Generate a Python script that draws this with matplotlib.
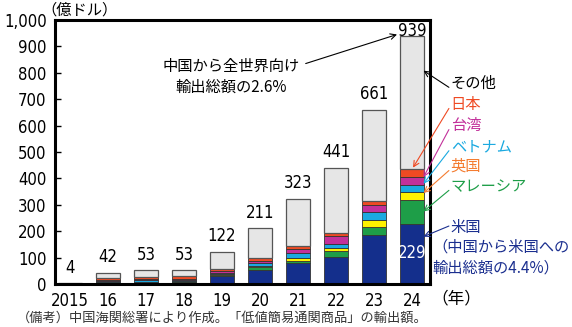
import matplotlib
matplotlib.use("Agg")
import matplotlib.pyplot as plt
from matplotlib.ticker import FuncFormatter
from matplotlib import font_manager as fm
import numpy as np

plt.rcParams['font.family'] = ['Noto Sans CJK JP', 'DejaVu Sans']

# データ（億ドル）
years = ["2015", "16", "17", "18", "19", "20", "21", "22", "23", "24"]
totals = [4, 42, 53, 53, 122, 211, 323, 441, 661, 939]
us = [1, 3, 6, 9, 30, 53, 79, 102, 185, 229]
malaysia = [0, 2, 2, 2, 4, 11, 8, 23, 30, 90]
uk = [0, 2, 2, 2, 6, 4, 11, 11, 27, 30]
vietnam = [1, 6, 6, 3, 3, 11, 19, 15, 30, 25]
taiwan = [0, 3, 4, 5, 8, 8, 15, 30, 26, 30]
japan = [0, 6, 8, 10, 5, 11, 11, 11, 15, 30]

series = [
    ("米国", us, "#142f8c"),
    ("マレーシア", malaysia, "#1e9e48"),
    ("英国", uk, "#fff200"),
    ("ベトナム", vietnam, "#1aa9e0"),
    ("台湾", taiwan, "#c2309a"),
    ("日本", japan, "#ef4a23"),
]
known = np.sum([s[1] for s in series], axis=0)
others = np.array(totals) - known

# 数字用の細身フォント（あれば）
names = {f.name for f in fm.fontManager.ttflist}
narrow = None
for cand in ["Liberation Sans Narrow", "DejaVu Sans Condensed"]:
    if cand in names:
        narrow = cand
        break
if narrow:
    numfp = fm.FontProperties(family=narrow, size=13)
else:
    numfp = fm.FontProperties(family="DejaVu Sans", stretch="condensed", size=12)

fig = plt.figure(figsize=(5.72, 3.27), dpi=100)
ax = fig.add_axes([0.096, 0.131, 0.656, 0.808])

x = np.arange(len(years))
w = 0.63
bottom = np.zeros(len(years))
for name, vals, col in series:
    ax.bar(x, vals, w, bottom=bottom, color=col, edgecolor="#333333", linewidth=0.6)
    bottom += np.array(vals)
ax.bar(x, others, w, bottom=bottom, color="#e6e6e6", edgecolor="#555555", linewidth=0.9)

ax.set_xlim(-0.39, 9.47)
ax.set_ylim(0, 1000)
ax.set_yticks(range(0, 1001, 100))
ax.yaxis.set_major_formatter(FuncFormatter(lambda v, p: f"{int(v):,}"))
ax.set_xticks(x)
ax.set_xticklabels(years)
ax.tick_params(axis="y", direction="in", length=4, width=1, pad=6)
ax.tick_params(axis="x", length=0, pad=6)
for sp in ax.spines.values():
    sp.set_linewidth(2.2)

for lab in ax.get_yticklabels() + ax.get_xticklabels():
    lab.set_fontproperties(numfp)

# 合計値
for i, t in enumerate(totals[:-1]):
    ax.text(x[i], t + 25, str(t), ha="center", va="bottom", fontproperties=numfp)
ax.text(x[-1], 958, str(totals[-1]), ha="center", va="center", fontproperties=numfp)
ax.text(x[-1], us[-1] / 2 + 5, str(us[-1]), ha="center", va="center", color="white", fontproperties=numfp)

# 凡例代わりの注記
xe = x[-1] + w / 2 - 0.02
lab_x = 1.055
tr = ax.get_yaxis_transform()
notes = [
    ("その他", "black", 760, 808),
    ("日本", "#ef4a23", 680, 441),
    ("台湾", "#c2309a", 600, 405),
    ("ベトナム", "#1aa9e0", 520, 380),
    ("英国", "#f47c30", 445, 345),
    ("マレーシア", "#1e9e48", 370, 275),
]
for txt, col, ty, py in notes:
    ax.text(lab_x, ty, txt, transform=tr, color=col, fontsize=11, va="center", ha="left", clip_on=False)
    ax.annotate("", xy=(xe if txt != "日本" else x[-1] + 0.02, py), xycoords="data",
                xytext=(lab_x - 0.005, ty - 15), textcoords=tr,
                arrowprops=dict(arrowstyle="->", color=col, lw=0.8, shrinkA=0, shrinkB=0),
                annotation_clip=False)

ax.text(lab_x, 215, "米国", transform=tr, color="#1b2f8f", fontsize=11, va="center", ha="left")
ax.text(1.005, 100, "（中国から米国への\n輸出総額の4.4%）", transform=tr, color="#1b2f8f",
        fontsize=11, va="center", ha="left", linespacing=1.3)
ax.annotate("", xy=(xe, 180), xycoords="data", xytext=(lab_x - 0.005, 220), textcoords=tr,
            arrowprops=dict(arrowstyle="->", color="#1b2f8f", lw=0.8, shrinkA=0, shrinkB=0),
            annotation_clip=False)

ax.text(4.25, 785, "中国から全世界向け\n輸出総額の2.6%", ha="center", va="center", fontsize=11, linespacing=1.25)
ax.annotate("", xy=(8.6, 945), xytext=(6.2, 835),
            arrowprops=dict(arrowstyle="->", color="black", lw=0.8, shrinkA=0, shrinkB=0))

fig.text(0.072, 0.968, "（億ドル）", ha="left", va="center", fontsize=11)
fig.text(0.755, 0.085, "（年）", ha="left", va="center", fontsize=12)
fig.text(0.03, 0.028, "（備考）中国海関総署により作成。「低値簡易通関商品」の輸出額。",
         ha="left", va="center", fontsize=9.5, color="#333333")

fig.savefig("out.png", dpi=100)
